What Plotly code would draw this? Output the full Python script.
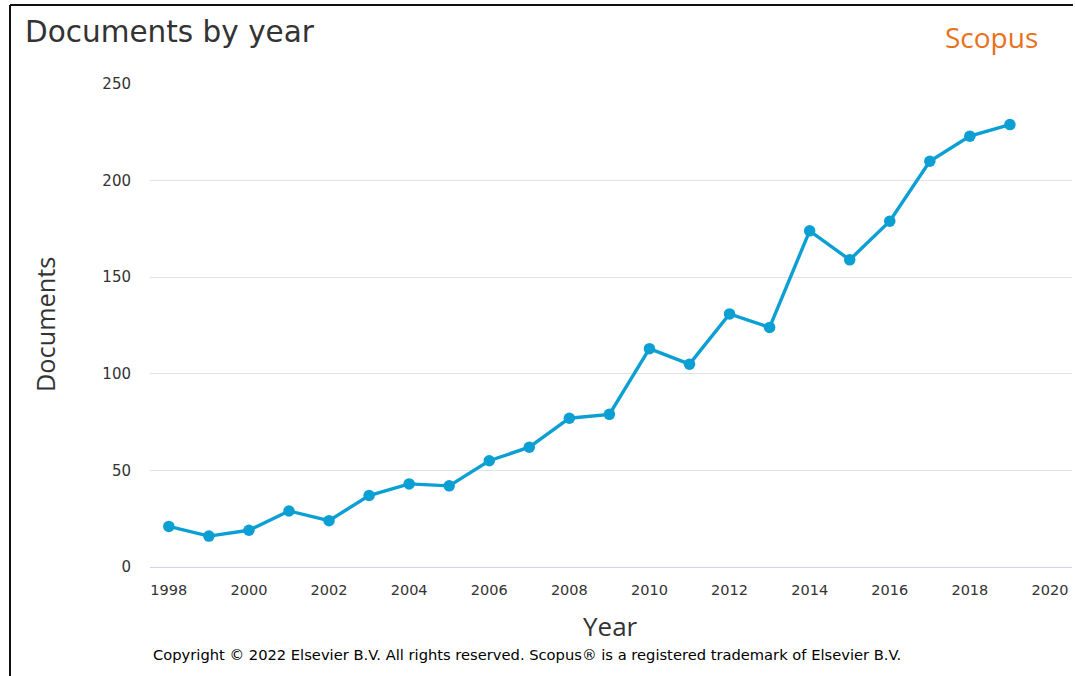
import plotly.graph_objects as go

years = list(range(1998, 2020))
documents = [21, 16, 19, 29, 24, 37, 43, 42, 55, 62, 77, 79, 113, 105, 131, 124, 174, 159, 179, 210, 223, 229]
x_ticks = list(range(1998, 2021, 2))
y_ticks = [0, 50, 100, 150, 200, 250]

W, H = 1075, 676
L, R, T, B = 150, 3, 84, 109

fig = go.Figure()
fig.add_trace(go.Scatter(
    x=years, y=documents, mode="lines+markers",
    line=dict(color="#0b9fd3", width=3.4),
    marker=dict(color="#0b9fd3", size=11.5),
    hoverinfo="x+y", showlegend=False,
))

pw = W - L - R
ph = H - T - B
def px_x(p):
    return (p - L) / pw
def px_y(p):
    return (H - B - p) / ph

fig.update_layout(
    width=W, height=H,
    margin=dict(l=L, r=R, t=T, b=B, pad=0),
    paper_bgcolor="white", plot_bgcolor="white",
    font=dict(family="DejaVu Sans", color="#333333"),
    xaxis=dict(
        range=[1997.53, 2020.55], tickvals=x_ticks,
        showgrid=False, zeroline=False,
        showline=True, linecolor="#ccd6eb", linewidth=1,
        ticks="outside", ticklen=10, tickcolor="rgba(0,0,0,0)",
        tickfont=dict(family="DejaVu Sans", size=14.5, color="#333333"),
    ),
    yaxis=dict(
        range=[0, 250], tickvals=y_ticks,
        showgrid=True, gridcolor="#e3e3e3", gridwidth=1,
        zeroline=False, showline=False,
        ticks="outside", ticklen=15, tickcolor="rgba(0,0,0,0)",
        tickfont=dict(family="DejaVu Sans", size=15, color="#333333"),
    ),
    annotations=[
        dict(text="Documents by year", xref="paper", yref="paper",
             x=px_x(23), y=px_y(32), xanchor="left", yanchor="middle",
             showarrow=False, font=dict(family="DejaVu Sans", size=29.5, color="#333333")),
        dict(text="Scopus", xref="paper", yref="paper",
             x=px_x(991), y=px_y(37), xanchor="center", yanchor="middle",
             showarrow=False, font=dict(family="Open Sans", size=28, color="#e9711c")),
        dict(text="Documents", xref="paper", yref="paper",
             x=px_x(45), y=px_y(325), xanchor="center", yanchor="middle", textangle=-90,
             showarrow=False, font=dict(family="Open Sans", size=25.3, color="#333333")),
        dict(text="Year", xref="paper", yref="paper",
             x=px_x(610), y=px_y(626), xanchor="center", yanchor="middle",
             showarrow=False, font=dict(family="Open Sans", size=26, color="#333333")),
        dict(text="Copyright © 2022 Elsevier B.V. All rights reserved. Scopus® is a registered trademark of Elsevier B.V.",
             xref="paper", yref="paper",
             x=px_x(527), y=px_y(654), xanchor="center", yanchor="middle",
             showarrow=False, font=dict(family="DejaVu Sans", size=14.7, color="#000000")),
    ],
    shapes=[
        dict(type="line", xref="paper", yref="paper",
             x0=px_x(10), x1=px_x(1073), y0=px_y(5), y1=px_y(5),
             line=dict(color="#111111", width=2)),
        dict(type="line", xref="paper", yref="paper",
             x0=px_x(10), x1=px_x(10), y0=px_y(5), y1=px_y(676),
             line=dict(color="#111111", width=2)),
    ],
)

fig.write_html("out.html", config={"displayModeBar": False},
               post_script="document.body.style.margin='0';")
